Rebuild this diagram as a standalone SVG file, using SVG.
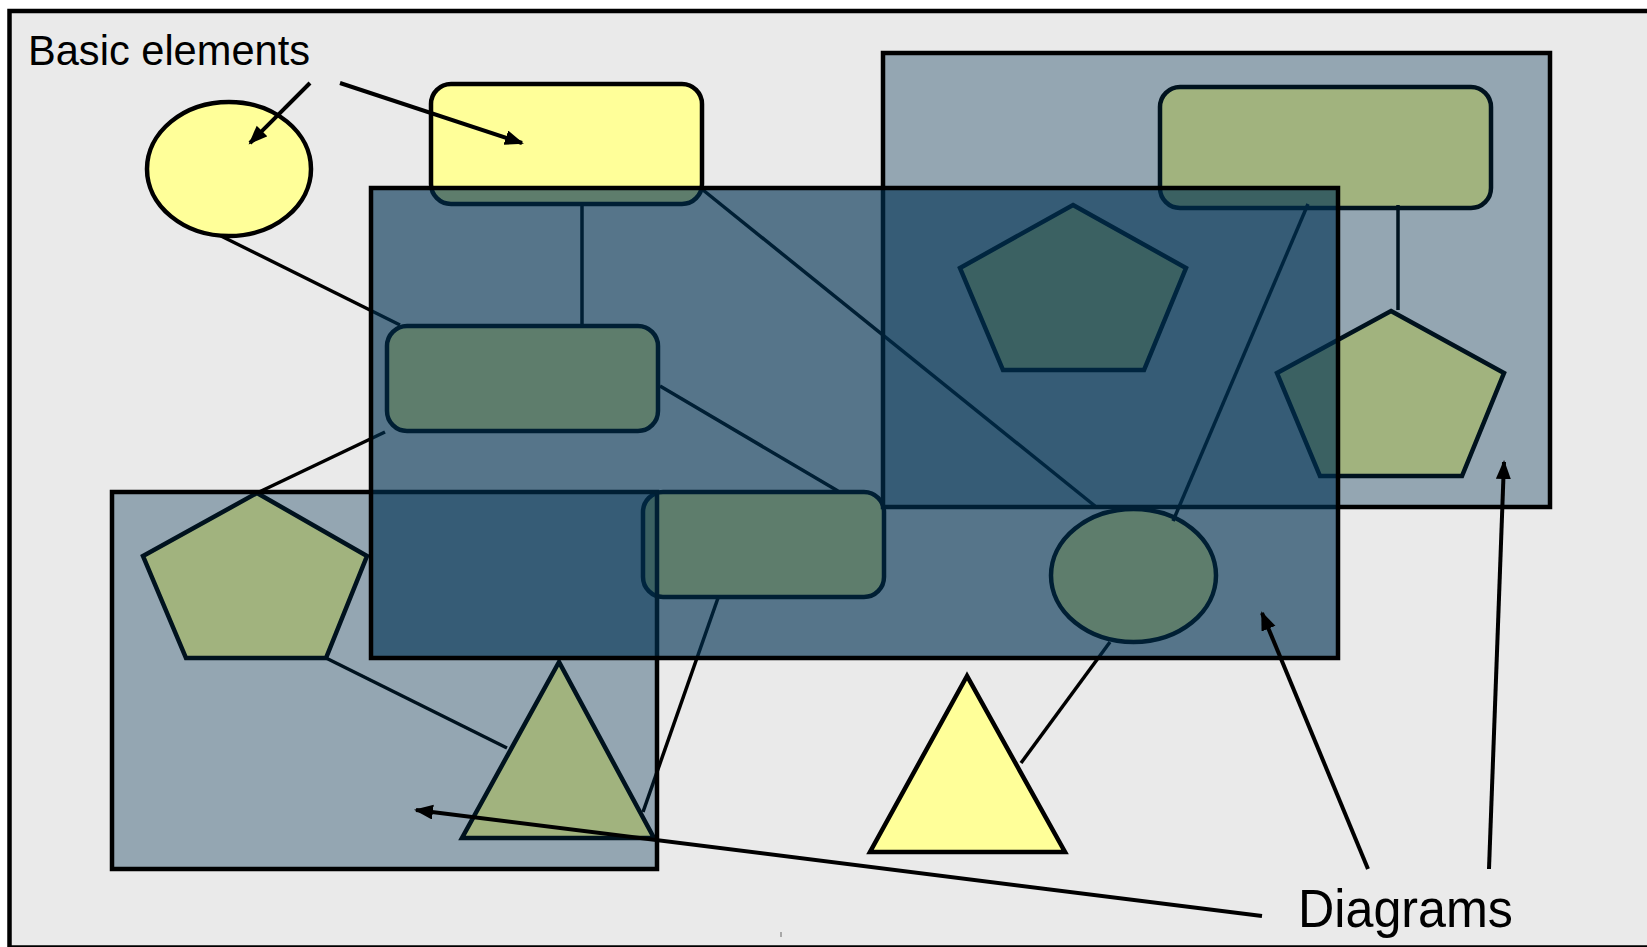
<svg xmlns="http://www.w3.org/2000/svg" width="1647" height="947" viewBox="0 0 1647 947">
<defs>
<marker id="ah" markerUnits="userSpaceOnUse" markerWidth="20" markerHeight="16" refX="17" refY="7.5" orient="auto"><path d="M0,0 L19,7.5 L0,15 z" fill="#000"/></marker>
</defs>
<style>
.shape{fill:#ffff99;stroke:#000;stroke-width:4.5}
.conn{stroke:#000;stroke-width:3.5;fill:none}
.grp{fill:#003152;stroke:#000;stroke-width:4.5}
.note{stroke:#000;stroke-width:4;fill:none;marker-end:url(#ah)}
.lbl{font-family:"Liberation Sans",Arial,sans-serif;fill:#000}
</style>
<rect x="0" y="0" width="1647" height="947" fill="#fff"/>
<rect id="frame" x="9.5" y="11" width="1660" height="936.5" fill="#eaeaea" stroke="#000" stroke-width="4.5"/>
<line x1="781" y1="932" x2="781" y2="937" stroke="#666" stroke-width="1"/>

<g id="ellipse-top"><ellipse class="shape" cx="229" cy="169" rx="82" ry="67"/></g>
<g id="rect-top"><rect class="shape" x="431" y="84" width="271" height="120" rx="20"/></g>
<g id="rect-topright"><rect class="shape" x="1160" y="87" width="331" height="121" rx="20"/></g>
<g id="pentagon-center"><polygon class="shape" points="1073,205 1186,268 1144,370 1003,370 960,268"/></g>
<g id="pentagon-right"><polygon class="shape" points="1391,311 1504,373 1462,476 1320,476 1277,373"/></g>
<g id="rect-middle"><rect class="shape" x="387" y="326" width="271" height="105" rx="20"/></g>
<g id="rect-bottom"><rect class="shape" x="643" y="492" width="241" height="105" rx="20"/></g>
<g id="ellipse-center"><ellipse class="shape" cx="1133.5" cy="575.5" rx="82.5" ry="66.5"/></g>
<g id="pentagon-left"><polygon class="shape" points="257,493 367,556 326,658 186,658 143,556"/></g>
<g id="triangle-left"><polygon class="shape" points="559,662 462,838 654,838"/></g>
<g id="triangle-bottom"><polygon class="shape" points="967,676 870,852 1065,852"/></g>

<g id="connectors">
<line class="conn" x1="221" y1="236" x2="400" y2="325"/>
<line class="conn" x1="582" y1="205" x2="582" y2="325"/>
<line class="conn" x1="703" y1="190" x2="1095" y2="506"/>
<line class="conn" x1="660" y1="386" x2="838" y2="491"/>
<line class="conn" x1="385" y1="432" x2="257" y2="493"/>
<line class="conn" x1="326" y1="658" x2="507" y2="748"/>
<line class="conn" x1="718" y1="598" x2="643" y2="812"/>
<line class="conn" x1="1308" y1="204" x2="1173" y2="521"/>
<line class="conn" x1="1398" y1="205" x2="1398" y2="310"/>
<line class="conn" x1="1110" y1="642" x2="1021" y2="763"/>
</g>

<g id="group-left"><rect class="grp" x="112" y="492" width="545" height="377" fill-opacity="0.37"/></g>
<g id="group-right"><rect class="grp" x="883" y="53" width="667" height="454" fill-opacity="0.37"/></g>
<g id="group-middle"><rect class="grp" x="371" y="188" width="967" height="470" fill-opacity="0.63"/></g>

<g id="annotations">
<text class="lbl" x="28" y="65" font-size="42" textLength="282" lengthAdjust="spacingAndGlyphs">Basic elements</text>
<line class="note" x1="310" y1="83" x2="250" y2="143"/>
<line class="note" x1="340" y1="83" x2="522" y2="143"/>
<text class="lbl" x="1298" y="927" font-size="53" textLength="215" lengthAdjust="spacingAndGlyphs">Diagrams</text>
<line class="note" x1="1262" y1="916" x2="416" y2="810"/>
<line class="note" x1="1368" y1="869" x2="1262" y2="613"/>
<line class="note" x1="1489" y1="869" x2="1504" y2="462"/>
</g>
</svg>
